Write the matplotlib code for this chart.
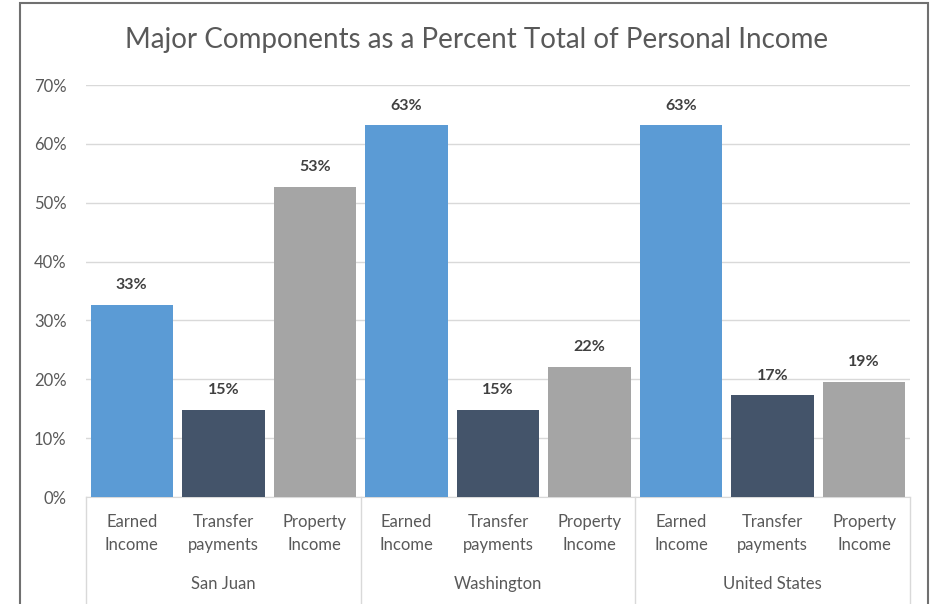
import matplotlib.pyplot as plt
from matplotlib.patches import Rectangle

groups = ["San Juan", "Washington", "United States"]
components = ["Earned\nIncome", "Transfer\npayments", "Property\nIncome"]
san_juan = [32.7, 14.8, 52.7]
washington = [63.2, 14.8, 22.1]
united_states = [63.2, 17.3, 19.6]
labels = ["33%", "15%", "53%", "63%", "15%", "22%", "63%", "17%", "19%"]

colors = ["#5B9BD5", "#44546A", "#A5A5A5"]
text_col = "#595959"

plt.rcParams['font.family'] = ['Lato', 'DejaVu Sans']

fig = plt.figure(figsize=(9.38, 6.04), dpi=100)
ax = fig.add_axes([86 / 938, 1 - 497 / 604, 824 / 938, 412 / 604])

values = san_juan + washington + united_states
xs = list(range(len(values)))
bars = ax.bar(xs, values, width=0.9, color=colors * 3, zorder=3)

for b, lab in zip(bars, labels):
    ax.annotate(lab, (b.get_x() + b.get_width() / 2, b.get_height()),
                xytext=(0, 9), textcoords="offset points", ha="center", va="bottom",
                fontsize=11.5, fontweight="bold", color="#404040")

ax.set_xlim(-0.5, 8.5)
ax.set_ylim(0, 70)
ax.set_yticks(range(0, 71, 10))
ax.set_yticklabels([f"{v}%" for v in range(0, 71, 10)], fontsize=12, color=text_col)
ax.yaxis.grid(True, color="#D9D9D9", linewidth=1, zorder=0)
ax.tick_params(axis="y", length=0, pad=14)
ax.set_xticks(xs)
ax.set_xticklabels(components * 3, fontsize=12, color=text_col, linespacing=1.6)
ax.tick_params(axis="x", length=0, pad=12)
for s in ["top", "right", "left"]:
    ax.spines[s].set_visible(False)
ax.spines["bottom"].set_color("#D9D9D9")

# group labels and separators
trans = ax.get_xaxis_transform()
for i, g in enumerate(groups):
    ax.text(3 * i + 1, -0.211, g, transform=trans, ha="center", va="center",
            fontsize=12, color=text_col)
for xv in [-0.5, 2.5, 5.5, 8.5]:
    ax.plot([xv, xv], [0, -0.26], transform=trans, color="#D9D9D9", linewidth=1,
            clip_on=False)

fig.text(477 / 938, 1 - 40 / 604, "Major Components as a Percent Total of Personal Income",
         ha="center", va="center", fontsize=20, color=text_col)

fig.patches.append(Rectangle((20 / 938, -0.05), 908 / 938, 1.05 - 3 / 604,
                             transform=fig.transFigure, fill=False,
                             edgecolor="#707070", linewidth=1.5))

fig.savefig("out.png", dpi=100, facecolor="white")
